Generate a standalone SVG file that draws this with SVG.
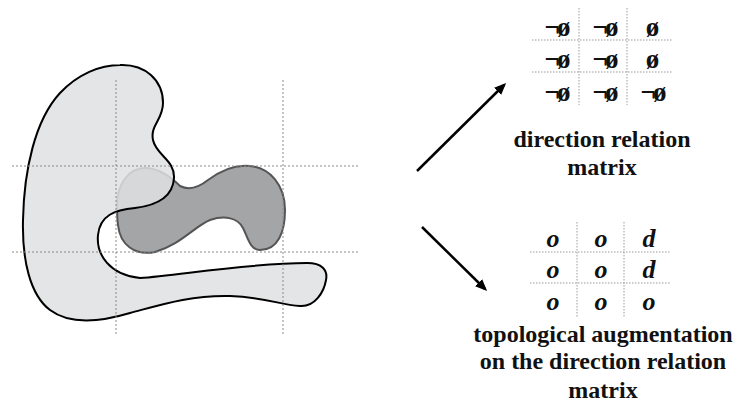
<svg xmlns="http://www.w3.org/2000/svg" width="740" height="416" viewBox="0 0 740 416">
<defs>
<style>
.grid{stroke:#8a8a8a;stroke-width:1;stroke-dasharray:2,2;fill:none}
.mgrid{stroke:#9a9a9a;stroke-width:1;stroke-dasharray:1.5,1.5;fill:none}
.lbl{font-weight:bold;font-size:24px;fill:#111;text-anchor:middle}
.cell{font-weight:bold;font-size:27px;fill:#111;text-anchor:middle;letter-spacing:-3px}
.cell2{font-weight:bold;font-style:italic;font-size:26px;fill:#111;text-anchor:middle}
.arrow{stroke:#000;stroke-width:2.5;fill:none;marker-end:url(#ah)}
</style>
<marker id="ah" markerWidth="12" markerHeight="12" refX="9" refY="6" orient="auto" markerUnits="userSpaceOnUse" viewBox="0 0 12 12">
<path d="M0,1 L12,6 L0,11 Z" fill="#000"/>
</marker>
</defs>
<rect width="740" height="416" fill="#fff"/>
<g id="regions">
<path id="regionB" d="M117,205 C117,185 128,168 145,168 C160,168 172,178 180,186 C188,190 198,188 208,180 C220,171 235,164 250,166 C270,168 285,185 285,210 C285,232 278,250 260,250 C250,250 248,238 243,228 C238,218 225,215 210,220 C195,226 180,245 155,252 C135,256 120,245 118,225 C117,218 117,212 117,205 Z" fill="#a4a5a7" stroke="#555" stroke-width="2"/>
<path id="regionA" d="M120,65 C145,64 163,80 163,103 C163,120 150,125 153,140 C156,155 175,160 174,178 C173,195 160,205 135,208 C115,210 100,215 98,235 C96,255 110,275 140,278 C180,275 250,263 307,263 C322,263 328,270 326,280 C324,292 315,307 300,306 C280,305 265,297 230,296 C190,295 160,305 130,313 C100,322 70,325 50,310 C30,295 22,260 23,220 C24,170 35,120 60,93 C78,74 100,65 120,65 Z" fill="#dfe0e2" fill-opacity="0.85" stroke="#000" stroke-width="2"/>
</g>
<g id="grid">
<line class="grid" x1="116" y1="80" x2="116" y2="335"/>
<line class="grid" x1="283" y1="80" x2="283" y2="335"/>
<line class="grid" x1="12" y1="166" x2="360" y2="166"/>
<line class="grid" x1="12" y1="252" x2="360" y2="252"/>
</g>
<g id="connectors">
<line class="arrow" x1="417" y1="171" x2="504" y2="85"/>
<line class="arrow" x1="422" y1="227" x2="485" y2="289"/>
</g>
<g id="matrix1" font-family="'Liberation Serif', 'Times New Roman', 'DejaVu Serif', serif">
<line class="mgrid" x1="579" y1="8" x2="579" y2="105"/>
<line class="mgrid" x1="627" y1="8" x2="627" y2="105"/>
<line class="mgrid" x1="532" y1="40" x2="673" y2="40"/>
<line class="mgrid" x1="532" y1="72" x2="673" y2="72"/>
<text class="cell" x="556" y="36">¬ø</text>
<text class="cell" x="604" y="36">¬ø</text>
<text class="cell" x="651" y="36">ø</text>
<text class="cell" x="556" y="68">¬ø</text>
<text class="cell" x="604" y="68">¬ø</text>
<text class="cell" x="651" y="68">ø</text>
<text class="cell" x="556" y="101">¬ø</text>
<text class="cell" x="604" y="101">¬ø</text>
<text class="cell" x="652" y="101">¬ø</text>
<text class="lbl" x="602" y="147">direction relation</text>
<text class="lbl" x="602" y="175">matrix</text>
</g>
<g id="matrix2" font-family="'Liberation Serif', 'Times New Roman', 'DejaVu Serif', serif">
<line class="mgrid" x1="577" y1="222" x2="577" y2="317"/>
<line class="mgrid" x1="624" y1="222" x2="624" y2="317"/>
<line class="mgrid" x1="530" y1="252" x2="670" y2="252"/>
<line class="mgrid" x1="530" y1="283" x2="670" y2="283"/>
<text class="cell2" x="553" y="247">o</text>
<text class="cell2" x="601" y="247">o</text>
<text class="cell2" x="649" y="247">d</text>
<text class="cell2" x="553" y="278">o</text>
<text class="cell2" x="601" y="278">o</text>
<text class="cell2" x="649" y="278">d</text>
<text class="cell2" x="553" y="310">o</text>
<text class="cell2" x="601" y="310">o</text>
<text class="cell2" x="649" y="310">o</text>
<text class="lbl" x="603" y="342">topological augmentation</text>
<text class="lbl" x="603" y="369">on the direction relation</text>
<text class="lbl" x="603" y="398">matrix</text>
</g>
</svg>
